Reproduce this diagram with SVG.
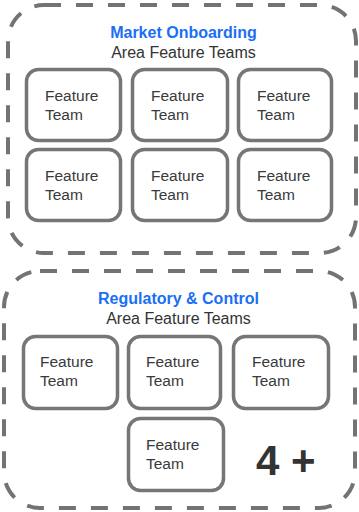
<svg xmlns="http://www.w3.org/2000/svg" width="359" height="512" viewBox="0 0 359 512">
<style>
.area{fill:none;stroke:#737373;stroke-width:4;stroke-dasharray:17 15}
.team{fill:#fff;stroke:#767676;stroke-width:3.5}
.t{font-family:"Liberation Sans",Arial,sans-serif;font-size:15.5px;fill:#3a3a3a}
.title{font-family:"Liberation Sans",Arial,sans-serif;font-size:16px;font-weight:bold;fill:#1a6ff5;text-anchor:middle}
.sub{font-family:"Liberation Sans",Arial,sans-serif;font-size:16px;fill:#333;text-anchor:middle}
.more{font-family:"Liberation Sans",Arial,sans-serif;font-size:42px;font-weight:bold;fill:#333}
</style>
<rect width="359" height="512" fill="#fff"/>
<g id="area-market">
<rect class="area" x="8" y="5" width="348" height="248" rx="36"/>
<text class="title" x="183.5" y="38">Market Onboarding</text>
<text class="sub" x="183.5" y="58">Area Feature Teams</text>
</g>
<g id="mo-team-1"><rect class="team" x="26.5" y="69.5" width="94" height="71" rx="12"/><text class="t" x="45" y="101">Feature</text><text class="t" x="45" y="120">Team</text></g>
<g id="mo-team-2"><rect class="team" x="132.5" y="69.5" width="95" height="71" rx="12"/><text class="t" x="151" y="101">Feature</text><text class="t" x="151" y="120">Team</text></g>
<g id="mo-team-3"><rect class="team" x="238.5" y="69.5" width="93" height="71" rx="12"/><text class="t" x="257" y="101">Feature</text><text class="t" x="257" y="120">Team</text></g>
<g id="mo-team-4"><rect class="team" x="26.5" y="149.5" width="94" height="71" rx="12"/><text class="t" x="45" y="181">Feature</text><text class="t" x="45" y="200">Team</text></g>
<g id="mo-team-5"><rect class="team" x="132.5" y="149.5" width="95" height="71" rx="12"/><text class="t" x="151" y="181">Feature</text><text class="t" x="151" y="200">Team</text></g>
<g id="mo-team-6"><rect class="team" x="238.5" y="149.5" width="93" height="71" rx="12"/><text class="t" x="257" y="181">Feature</text><text class="t" x="257" y="200">Team</text></g>
<g id="area-regulatory">
<rect class="area" x="4" y="271" width="351" height="237" rx="36"/>
<text class="title" x="178.5" y="304">Regulatory &amp; Control</text>
<text class="sub" x="178.5" y="324">Area Feature Teams</text>
</g>
<g id="rc-team-1"><rect class="team" x="23.5" y="336.5" width="94" height="72" rx="12"/><text class="t" x="40" y="367">Feature</text><text class="t" x="40" y="386">Team</text></g>
<g id="rc-team-2"><rect class="team" x="128.5" y="336.5" width="92" height="72" rx="12"/><text class="t" x="146" y="367">Feature</text><text class="t" x="146" y="386">Team</text></g>
<g id="rc-team-3"><rect class="team" x="233.5" y="336.5" width="95" height="72" rx="12"/><text class="t" x="252" y="367">Feature</text><text class="t" x="252" y="386">Team</text></g>
<g id="rc-team-4"><rect class="team" x="128.5" y="418.5" width="95" height="72" rx="12"/><text class="t" x="146" y="450">Feature</text><text class="t" x="146" y="469">Team</text></g>
<g id="more"><text class="more" x="256" y="475">4 +</text></g>
<g id="connectors"></g>
</svg>
